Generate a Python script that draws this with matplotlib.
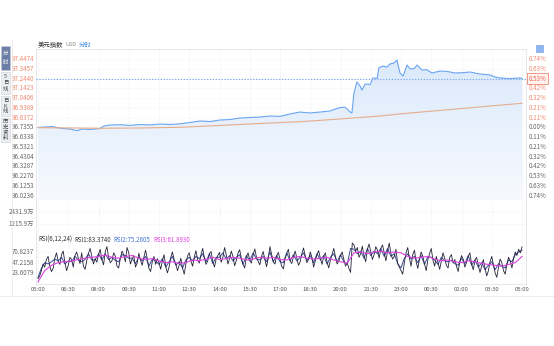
import matplotlib
matplotlib.use("Agg")
import matplotlib.pyplot as plt
import numpy as np
from matplotlib.patches import Rectangle

plt.rcParams['font.family'] = ['Noto Sans CJK SC', 'DejaVu Sans']

# ---- data -------------------------------------------------------------
# minutes since 05:00
price_min = [0, 21, 42, 57, 74, 95, 116, 131, 155, 184, 196, 214, 244, 274, 303,
             333, 363, 393, 422, 452, 482, 512, 541, 571, 601, 631, 660, 690, 720,
             750, 779, 809, 839, 869, 893, 913, 928, 934, 940, 949, 958, 964, 973,
             988, 997, 1009, 1014, 1026, 1038, 1047, 1059, 1068, 1077, 1086, 1098,
             1107, 1119, 1128, 1142, 1157, 1172, 1196, 1217, 1241, 1264, 1285, 1315,
             1345, 1360, 1374, 1404, 1434, 1440]
price = [96.734, 96.739, 96.744, 96.734, 96.723, 96.718, 96.701, 96.718, 96.714,
         96.723, 96.749, 96.760, 96.763, 96.756, 96.765, 96.761, 96.770, 96.765,
         96.772, 96.786, 96.802, 96.796, 96.812, 96.817, 96.833, 96.838, 96.843,
         96.854, 96.850, 96.875, 96.895, 96.885, 96.895, 96.906, 96.937, 96.947,
         96.898, 96.885, 97.093, 97.208, 97.166, 97.124, 97.187, 97.182, 97.250,
         97.245, 97.354, 97.374, 97.364, 97.395, 97.406, 97.437, 97.302, 97.270,
         97.385, 97.343, 97.348, 97.385, 97.333, 97.336, 97.302, 97.322, 97.318,
         97.302, 97.305, 97.312, 97.291, 97.281, 97.260, 97.250, 97.244, 97.250,
         97.244]

avg_min = [0, 95, 184, 303, 422, 541, 660, 779, 928, 1017, 1107, 1226, 1345, 1440]
avg_price = [96.732, 96.729, 96.726, 96.729, 96.736, 96.755, 96.776, 96.794,
             96.830, 96.854, 96.885, 96.921, 96.958, 96.986]

last_price = 97.2440
base_price = 96.7355

price_ticks = [97.4474, 97.3457, 97.2440, 97.1423, 97.0406, 96.9389, 96.8372,
               96.7355, 96.6338, 96.5321, 96.4304, 96.3287, 96.2270, 96.1253,
               96.0236]
pct_labels = ['0.74%', '0.63%', '0.53%', '0.42%', '0.32%', '0.21%', '0.11%',
              '0.00%', '0.11%', '0.21%', '0.32%', '0.42%', '0.53%', '0.63%', '0.74%']
vol_ticks = [2431.9, 1215.9]
rsi_ticks = [70.8237, 47.2158, 23.6079]

time_labels = ['05:00', '06:30', '08:00', '09:30', '11:00', '12:30', '14:00', '15:30',
               '17:00', '18:30', '20:00', '21:30', '23:00', '00:30', '02:00', '03:30',
               '05:00']

tab_names = ['分时', '5日线', '日K线', '历史资料']

# RSI1 every 5 min, RSI2 every 10 min, RSI3 every 20 min
rsi1 = [12, 18, 30, 45, 38, 55, 62, 40, 28, 35, 58, 70,
        52, 44, 66, 74, 48, 30, 42, 60, 55, 38, 64, 72,
        58, 46, 70, 40, 33, 52, 68, 80, 62, 45, 57, 49,
        66, 78, 55, 43, 72, 84, 60, 48, 52, 70, 63, 40,
        36, 58, 74, 66, 50, 82, 70, 45, 56, 64, 38, 47,
        69, 54, 42, 60, 76, 58, 35, 28, 50, 62, 44, 57,
        48, 33, 52, 66, 40, 25, 38, 60, 72, 55, 46, 30,
        42, 58, 36, 22, 45, 63, 70, 52, 40, 61, 75, 54,
        47, 66, 80, 58, 44, 52, 68, 73, 50, 38, 56, 64,
        71, 49, 60, 82, 66, 45, 57, 74, 62, 41, 53, 69,
        77, 58, 44, 36, 61, 70, 54, 47, 65, 79, 60, 51,
        43, 62, 73, 55, 39, 58, 84, 67, 50, 45, 63, 71,
        56, 40, 34, 57, 69, 78, 52, 46, 61, 74, 59, 42,
        50, 68, 81, 63, 48, 55, 72, 60, 38, 52, 66, 75,
        58, 44, 62, 70, 49, 36, 54, 67, 80, 61, 45, 52,
        64, 72, 55, 40, 48, 35, 26, 92, 88, 74, 82, 60,
        68, 85, 62, 50, 78, 90, 72, 55, 66, 84, 76, 58,
        80, 88, 70, 52, 74, 92, 68, 56, 62, 78, 46, 38,
        30, 22, 48, 70, 82, 58, 40, 66, 76, 50, 35, 57,
        72, 62, 45, 30, 55, 68, 80, 54, 40, 62, 48, 33,
        52, 70, 58, 42, 36, 60, 66, 47, 55, 40, 28, 50,
        64, 56, 38, 48, 62, 70, 45, 32, 54, 60, 42, 26,
        40, 55, 35, 18, 30, 50, 62, 44, 25, 15, 38, 56,
        48, 30, 22, 45, 60, 52, 36, 58, 72, 64, 78, 70,
        83.374]
rsi2 = [15, 35, 48, 45, 50, 56,
        52, 60, 45, 52, 50, 62,
        54, 50, 55, 68, 54, 54,
        68, 54, 68, 55, 60, 53,
        50, 66, 64, 58, 58, 46,
        60, 52, 62, 40, 56, 52,
        44, 57, 38, 50, 62, 42,
        50, 36, 54, 60, 52, 62,
        57, 68, 50, 68, 46, 60,
        60, 70, 56, 64, 52, 60,
        66, 44, 64, 52, 70, 56,
        54, 62, 50, 72, 50, 64,
        50, 48, 70, 52, 66, 52,
        60, 70, 53, 64, 48, 68,
        54, 64, 45, 60, 68, 50,
        66, 50, 45, 80, 78, 68,
        74, 58, 80, 64, 74, 68,
        80, 62, 80, 62, 68, 46,
        36, 58, 68, 56, 62, 48,
        64, 44, 62, 60, 54, 44,
        60, 52, 50, 54, 46, 42,
        58, 46, 64, 42, 54, 38,
        48, 32, 42, 50, 32, 46,
        40, 36, 54, 50, 66, 72,
        75.2605]
rsi3 = [5, 30, 42, 48, 50, 52,
        55, 58, 60, 62, 65, 60,
        58, 62, 64, 58, 55, 57,
        52, 48, 50, 46, 48, 54,
        52, 56, 60, 55, 57, 60,
        58, 54, 56, 60, 58, 60,
        55, 54, 60, 62, 58, 56,
        58, 60, 54, 50, 47, 70,
        72, 68, 72, 74, 70, 72,
        70, 62, 58, 60, 62, 56,
        52, 54, 50, 48, 52, 50,
        46, 44, 42, 40, 44, 48,
        61.893]

# ---- layout helpers -----------------------------------------------------
W, H = 554, 346
fig = plt.figure(figsize=(W / 100, H / 100), dpi=100)
fig.patch.set_facecolor('white')
renderer = fig.canvas.get_renderer()


def add_ax(left, top, right, bottom):
    return fig.add_axes([left / W, 1 - bottom / H, (right - left) / W, (bottom - top) / H])


def text_run(x_px, y_px, pieces, gap=2.5):
    """Place coloured text pieces one after another on a line."""
    x = x_px
    for s, size, col in pieces:
        t = fig.text(x / W, 1 - y_px / H, s, fontsize=size, color=col, va='center')
        x = t.get_window_extent(renderer).x1 + gap


PL, PR = 36, 526
X0 = -2 / (484 / 1440)
X1 = 1440 + 4 / (484 / 1440)
RED = '#ef8a72'
GREY = '#666666'
GRID = '#e4e6ea'
TICK_FS = 4.5

main = add_ax(PL, 49, PR, 200)
vol = add_ax(PL, 200, PR, 236)
rsi = add_ax(PL, 236, PR, 284)

for a in (main, vol, rsi):
    a.set_xlim(X0, X1)
    a.set_xticks([])
    a.set_yticks([])
    for s in a.spines.values():
        s.set_color('#e2e4e8')
        s.set_linewidth(0.6)
    for k in range(len(time_labels)):
        a.axvline(k * 90, color=GRID, lw=0.5, ls=(0, (1, 1.5)), zorder=0)
main.spines['bottom'].set_visible(False)
vol.spines['top'].set_visible(False)
vol.spines['bottom'].set_visible(False)
rsi.spines['top'].set_visible(False)

# ---- price panel -------------------------------------------------------------
ylo, yhi = 95.9788, 97.5516
main.set_ylim(ylo, yhi)
for v in price_ticks:
    main.axhline(v, color=GRID, lw=0.4, ls=(0, (1, 2)), zorder=0)

# gradient fill under the price line
grad = np.linspace(0, 1, 256).reshape(-1, 1)
img = main.imshow(grad, extent=[X0, X1, ylo, yhi], origin='lower', aspect='auto',
                  cmap=matplotlib.colors.LinearSegmentedColormap.from_list(
                      'fade', ['#f7fafe', '#d9e8fb']), zorder=1)
poly = main.fill_between(price_min, price, ylo, color='none', lw=0)
clip = matplotlib.patches.PathPatch(poly.get_paths()[0], transform=main.transData,
                                    facecolor='none', edgecolor='none')
main.add_patch(clip)
img.set_clip_path(clip)

main.plot(price_min, price, color='#6aa5f2', lw=0.8, zorder=3)
main.plot(avg_min, avg_price, color='#e6ad8c', lw=0.8, zorder=3)
main.axhline(last_price, color='#7eaaf0', lw=0.8, ls=(0, (1.2, 1.4)), zorder=4)

for v, lab in zip(price_ticks, pct_labels):
    col = RED if v > base_price + 1e-6 else GREY
    main.text(-0.004, v, f'{v:.4f}', transform=main.get_yaxis_transform(),
              ha='right', va='center', fontsize=TICK_FS, color=col)
    if abs(v - last_price) > 1e-6:
        main.text(1.006, v, lab, transform=main.get_yaxis_transform(),
                  ha='left', va='center', fontsize=TICK_FS, color=col)

# last price marker on the right axis
pct_last = (last_price - base_price) / base_price * 100
main.text(1.006, last_price, f'{pct_last:.2f}%', transform=main.get_yaxis_transform(),
          ha='left', va='center', fontsize=TICK_FS, color='#e8674f',
          bbox=dict(boxstyle='square,pad=0.25', fc='#fff3f0', ec='#ef8a72', lw=0.6),
          zorder=6, clip_on=False)

# title
text_run(38, 45, [('美元指数', 4.6, '#333333'), ('USD', 4.0, '#888888'),
                  ('分时', 4.6, '#4a8fe0')], gap=2)

# small icon at top right
fig.patches.append(Rectangle((536 / W, 1 - 52 / H), 7 / W, 7 / H, transform=fig.transFigure,
                             fc='#8fb6ee', ec='#6f9be0', lw=0.4))

# ---- volume panel -------------------------------------------------------------
vol.set_ylim(0, 3647.8)
for v in vol_ticks:
    vol.axhline(v, color=GRID, lw=0.4, ls=(0, (1, 2)), zorder=0)
    vol.text(-0.004, v, f'{v:.1f}万', transform=vol.get_yaxis_transform(),
             ha='right', va='center', fontsize=TICK_FS, color=GREY)

# ---- RSI panel ----------------------------------------------------------------
rsi.set_ylim(0, 107.9)
t5 = [i * 5 for i in range(len(rsi1))]
t10 = [i * 10 for i in range(len(rsi2))]
t20 = [i * 20 for i in range(len(rsi3))]
for v in rsi_ticks:
    rsi.axhline(v, color=GRID, lw=0.4, ls=(0, (1, 2)), zorder=0)
    rsi.text(-0.004, v, f'{v:.4f}', transform=rsi.get_yaxis_transform(),
             ha='right', va='center', fontsize=TICK_FS, color=GREY)
rsi.plot(t10, rsi2, color='#3b4a9a', lw=0.7, zorder=3)
rsi.plot(t5, rsi1, color='#23233a', lw=0.6, zorder=4)
rsi.plot(t20, rsi3, color='#e040e0', lw=0.8, zorder=5)

text_run(38, 239.5, [('RSI(6,12,24)', 4.4, '#333333'),
                     (f'RSI1:{rsi1[-1]:.4f}', 4.4, '#333333'),
                     (f'RSI2:{rsi2[-1]:.4f}', 4.4, '#3f6fd8'),
                     (f'RSI3:{rsi3[-1]:.4f}', 4.4, '#e040e0')], gap=2.5)

for k, lab in enumerate(time_labels):
    rsi.text(k * 90, -0.07, lab, transform=rsi.get_xaxis_transform(), ha='center',
             va='top', fontsize=4.3, color='#555555')

# ---- side tabs ------------------------------------------------------------
tab_spans = [(46, 70), (72, 94), (96, 116), (118, 142)]
for i, (name, (t, b)) in enumerate(zip(tab_names, tab_spans)):
    sel = i == 0
    fig.patches.append(Rectangle((1 / W, 1 - b / H), 9 / W, (b - t) / H,
                                 transform=fig.transFigure,
                                 fc='#6b7ea6' if sel else '#eceef1',
                                 ec='#c9ced6', lw=0.4))
    step = (b - t) / (len(name) + 0.4)
    for j, ch in enumerate(name):
        cy = t + step * (j + 0.7)
        fig.text(5.5 / W, 1 - cy / H, ch, fontsize=3.9, ha='center', va='center',
                 color='white' if sel else '#444444')

# page frame lines
fig.add_artist(plt.Line2D([12 / W, 12 / W], [1 - 296 / H, 1 - 40 / H], color='#e6e6e6', lw=0.5))
fig.add_artist(plt.Line2D([0, 1], [1 - 296 / H, 1 - 296 / H], color='#e6e6e6', lw=0.5))

fig.savefig('out.png', dpi=100, facecolor='white')
